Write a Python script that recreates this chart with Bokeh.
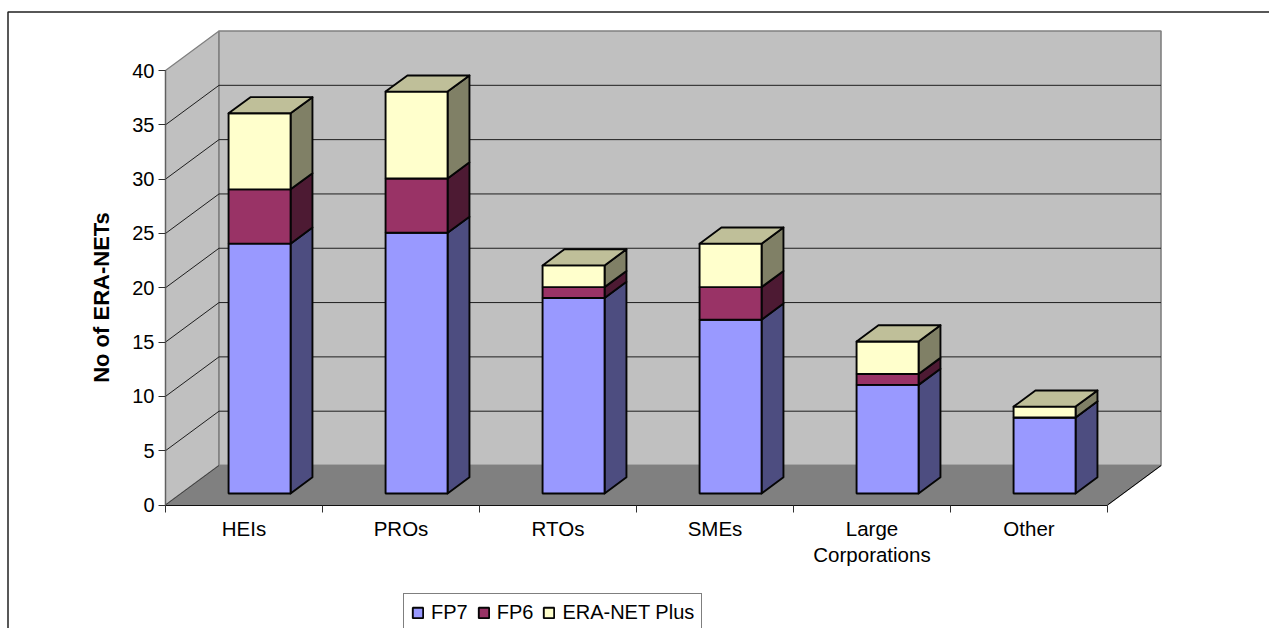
from bokeh.plotting import figure
from bokeh.models import Range1d, LinearAxis, FixedTicker, Legend, LegendItem
from bokeh.core.properties import value
from bokeh.embed import file_html
from bokeh.resources import INLINE
import math

categories = ["HEIs", "PROs", "RTOs", "SMEs", "Large\nCorporations", "Other"]
fp7 = [23, 24, 18, 16, 10, 7]
fp6 = [5, 5, 1, 3, 1, 0]
era_plus = [7, 8, 2, 4, 3, 1]
y_ticks = [0, 5, 10, 15, 20, 25, 30, 35, 40]

FONT = "Liberation Sans"
W, H = 1269, 628
ORG = 0
X0, XU = 165.0, 157.0
Y0, YU = 504.5, 10.8625
DX = 53.5 / XU
DY = 39.5 / YU
BAR_W = 62.0 / XU
D_FRONT, D_BACK = 0.291, 0.70
N = len(categories)
OUT = "#050505"
OUT_W = 1.9


def proj(c, v, d=0.0):
    return c + d * DX, v + d * DY


p = figure(width=W, height=H, output_backend="svg", toolbar_location=None,
           x_range=Range1d((ORG - X0) / XU, (ORG + W - X0) / XU),
           y_range=Range1d((Y0 - (ORG + H)) / YU, (Y0 - ORG) / YU),
           min_border=0, min_border_left=0, min_border_right=0,
           min_border_top=0, min_border_bottom=0, outline_line_color=None,
           background_fill_color="white", border_fill_color="white")
p.xaxis.visible = False
p.yaxis.visible = False
p.grid.visible = False


def poly(pts, **kw):
    xs, ys = zip(*pts)
    return p.patch(list(xs), list(ys), **kw)


WALL = "#C0C0C0"
EDGE = "#808080"
TOP = y_ticks[-1]
poly([proj(0, 0), proj(0, TOP), proj(0, TOP, 1), proj(0, 0, 1)], fill_color=WALL, line_color=EDGE, line_width=1.3)
poly([proj(0, 0, 1), proj(0, TOP, 1), proj(N, TOP, 1), proj(N, 0, 1)], fill_color=WALL, line_color=EDGE, line_width=1.6)
poly([proj(0, 0), proj(0, 0, 1), proj(N, 0, 1), proj(N, 0)], fill_color=EDGE, line_color=EDGE, line_width=1.3)

for t in y_ticks[1:-1]:
    a, b, c = proj(0, t), proj(0, t, 1), proj(N, t, 1)
    p.line([a[0], b[0], c[0]], [a[1], b[1], c[1]], line_color="#1E1E1E", line_width=1)
a, b = proj(N, 0), proj(N, 0, 1)
p.line([a[0], b[0]], [a[1], b[1]], line_color="black", line_width=1)
a, b = proj(0, 0), proj(0, 0, 1)
p.line([a[0], b[0]], [a[1], b[1]], line_color="#404040", line_width=1)

series = [("FP7", fp7, "#9999FF", "#4D4D80"),
          ("FP6", fp6, "#993366", "#4D1A33"),
          ("ERA-NET Plus", era_plus, "#FFFFCC", "#808066")]
base = [0] * N
items = []
for name, vals, face, side in series:
    left, right, bottom, top, sx, sy = [], [], [], [], [], []
    for i, v in enumerate(vals):
        b, t = base[i], base[i] + v
        l = i + 0.5 - BAR_W / 2
        r = i + 0.5 + BAR_W / 2
        x0, y0 = proj(l, b, D_FRONT)
        x1, y1 = proj(r, t, D_FRONT)
        left.append(x0); right.append(x1); bottom.append(y0); top.append(y1)
        pts = [proj(r, b, D_FRONT), proj(r, b, D_BACK), proj(r, t, D_BACK), proj(r, t, D_FRONT)]
        sx.append([q[0] for q in pts]); sy.append([q[1] for q in pts])
    p.patches(sx, sy, fill_color=side, line_color=OUT, line_width=OUT_W, line_join="round")
    rq = p.quad(left=left, right=right, bottom=bottom, top=top, fill_color=face,
                line_color=OUT, line_width=OUT_W)
    items.append(LegendItem(label=value(name), renderers=[rq]))
    base = [a + c for a, c in zip(base, vals)]

tx, ty = [], []
for i, total in enumerate(base):
    l = i + 0.5 - BAR_W / 2
    r = i + 0.5 + BAR_W / 2
    pts = [proj(l, total, D_FRONT), proj(l, total, D_BACK), proj(r, total, D_BACK), proj(r, total, D_FRONT)]
    tx.append([q[0] for q in pts]); ty.append([q[1] for q in pts])
p.patches(tx, ty, fill_color="#BFBF99", line_color=OUT, line_width=OUT_W, line_join="round")

yax = LinearAxis(fixed_location=0, ticker=FixedTicker(ticks=y_ticks), bounds=(0, TOP),
                 axis_line_color="#606060", axis_line_width=1.3,
                 major_tick_line_color="#303030", major_tick_in=0, major_tick_out=7,
                 minor_tick_line_color=None, major_label_standoff=4,
                 major_label_text_font=FONT, major_label_text_font_size="20px",
                 major_label_text_color="black")
p.add_layout(yax, "left")
xax = LinearAxis(fixed_location=0, ticker=FixedTicker(ticks=list(range(N + 1))), bounds=(0, N),
                 axis_line_color="#101010", axis_line_width=1.2,
                 major_tick_line_color="#303030", major_tick_in=0, major_tick_out=7,
                 minor_tick_line_color=None, major_label_text_color=None,
                 major_label_text_font_size="1px")
p.add_layout(xax, "below")
cax = LinearAxis(fixed_location=0, ticker=FixedTicker(ticks=[i + 0.5 for i in range(N)]),
                 major_label_overrides={i + 0.5: c for i, c in enumerate(categories)},
                 axis_line_color=None, major_tick_line_color=None, minor_tick_line_color=None,
                 major_tick_in=0, major_tick_out=0, major_label_standoff=12,
                 major_label_text_font=FONT, major_label_text_font_size="20.5px",
                 major_label_text_color="black", major_label_text_line_height=1.12)
p.add_layout(cax, "below")

p.text(x=[(101 - X0) / XU], y=[(Y0 - 297) / YU], text=["No of ERA-NETs"], angle=math.pi / 2,
       text_font=value(FONT), text_font_style="bold", text_font_size="22px",
       text_align="center", text_baseline="middle", text_color="black")

lim_x = (ORG + W - X0) / XU
p.line([(7.5 - X0) / XU, (7.5 - X0) / XU, lim_x], [(Y0 - (ORG + H)) / YU, (Y0 - 11.5) / YU, (Y0 - 11.5) / YU],
       line_color="#202020", line_width=1.5)

legend = Legend(items=items, orientation="horizontal", location=(403 - ORG, -4),
                glyph_width=13, glyph_height=13, label_standoff=7, spacing=9,
                padding=7, margin=0, border_line_color="black", border_line_width=1,
                label_text_font=FONT, label_text_font_size="20px", label_text_color="black",
                background_fill_color="white", background_fill_alpha=1.0)
p.add_layout(legend, "center")

open("out.html", "w").write(file_html(p, INLINE))
